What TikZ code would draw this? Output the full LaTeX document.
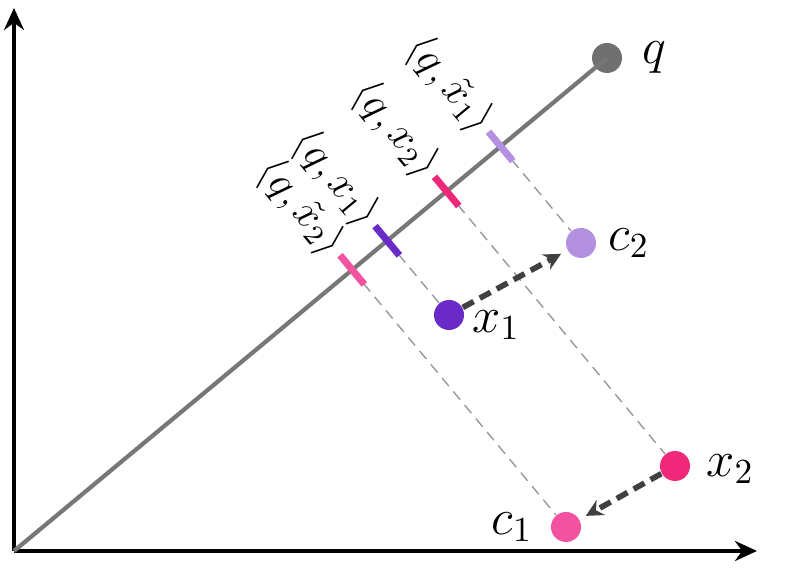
\documentclass[tikz,border=0pt]{standalone}
\usepackage{amsmath, amssymb}
\usepackage{xcolor}
\usepackage{tikz}
\usetikzlibrary{arrows.meta, calc, positioning}

\definecolor{linegray}{HTML}{777777}
\definecolor{qgray}{HTML}{707070}
\definecolor{violetdark}{HTML}{6A2AC8}
\definecolor{lilac}{HTML}{B491E0}
\definecolor{rose}{HTML}{F0287A}
\definecolor{pinklight}{HTML}{F352A0}
\definecolor{arrowgray}{HTML}{404040}

\begin{document}
\begin{tikzpicture}[
        x=0.01cm, y=0.01cm,
        dot/.style={circle, inner sep=0pt, minimum size=0.3cm, fill=#1},
        tickmark/.style={line width=2pt, draw=#1},
        proj/.style={draw=gray!80, line width=0.4pt, dash pattern=on 3pt off 2pt},
        move/.style={draw=arrowgray, line width=1.6pt, dash pattern=on 3.5pt off 2pt, shorten >=2pt, -{Stealth[length=0.17cm,width=0.17cm]}},
        axis/.style={line width=1.3pt, -{Stealth[length=0.22cm,width=0.2cm]}},
        lbl/.style={rotate=-50.3, anchor=east, font=\large, inner sep=1.5pt},
        ptlbl/.style={font=\Large, inner sep=2pt}
        ]
        \useasboundingbox (0,0) rectangle (800,571);

        % axes
        \coordinate (O) at (14,20);
        \coordinate (ytop) at (14,563);
        \coordinate (xend) at (757,20);
        \draw [axis] (O) -- (ytop);
        \draw [axis] (O) -- (xend);

        % points
        \node (q) [dot=qgray] at (607,513) {};
        \node (x1) [dot=violetdark] at (449,256) {};
        \node (c2) [dot=lilac] at (581,328) {};
        \node (x2) [dot=rose] at (675,105) {};
        \node (c1) [dot=pinklight] at (566,44) {};

        % direction of q
        \draw [linegray, line width=1.2pt] (O) -- (q.center);

        % projections onto q
        \coordinate (p1) at ($(O)!(x1.center)!(q.center)$);
        \coordinate (p2) at ($(O)!(x2.center)!(q.center)$);
        \coordinate (pc1) at ($(O)!(c1.center)!(q.center)$);
        \coordinate (pc2) at ($(O)!(c2.center)!(q.center)$);

        \draw [proj] (p1) -- (x1);
        \draw [proj] (p2) -- (x2);
        \draw [proj] (pc1) -- (c1);
        \draw [proj] (pc2) -- (c2);

        \coordinate (t1) at ($(p1)!0.19cm!90:(q.center)$);
        \coordinate (t2) at ($(p2)!0.19cm!90:(q.center)$);
        \coordinate (tc1) at ($(pc1)!0.19cm!90:(q.center)$);
        \coordinate (tc2) at ($(pc2)!0.19cm!90:(q.center)$);

        \draw [tickmark=violetdark] (t1) -- ($(p1)!0.19cm!-90:(q.center)$);
        \draw [tickmark=rose] (t2) -- ($(p2)!0.19cm!-90:(q.center)$);
        \draw [tickmark=pinklight] (tc1) -- ($(pc1)!0.19cm!-90:(q.center)$);
        \draw [tickmark=lilac] (tc2) -- ($(pc2)!0.19cm!-90:(q.center)$);

        \node (l1) [lbl] at (t1) {$\langle q, x_1\rangle$};
        \node (l2) [lbl] at (t2) {$\langle q, x_2\rangle$};
        \node (lc1) [lbl] at (tc1) {$\langle q, \tilde{x}_2\rangle$};
        \node (lc2) [lbl] at (tc2) {$\langle q, \tilde{x}_1\rangle$};

        % moves
        \draw [move] (x1) -- (c2);
        \draw [move] (x2) -- (c1);

        % point labels
        \node (qlbl) [ptlbl, right=0.12cm of q] {$q$};
        \node (x1lbl) [ptlbl, right=0pt of x1, yshift=-0.1cm] {$x_1$};
        \node (c2lbl) [ptlbl, right=0.04cm of c2] {$c_2$};
        \node (x2lbl) [ptlbl, right=0.08cm of x2, yshift=-0.03cm] {$x_2$};
        \node (c1lbl) [ptlbl, left=0.1cm of c1] {$c_1$};

    \end{tikzpicture}
\end{document}
